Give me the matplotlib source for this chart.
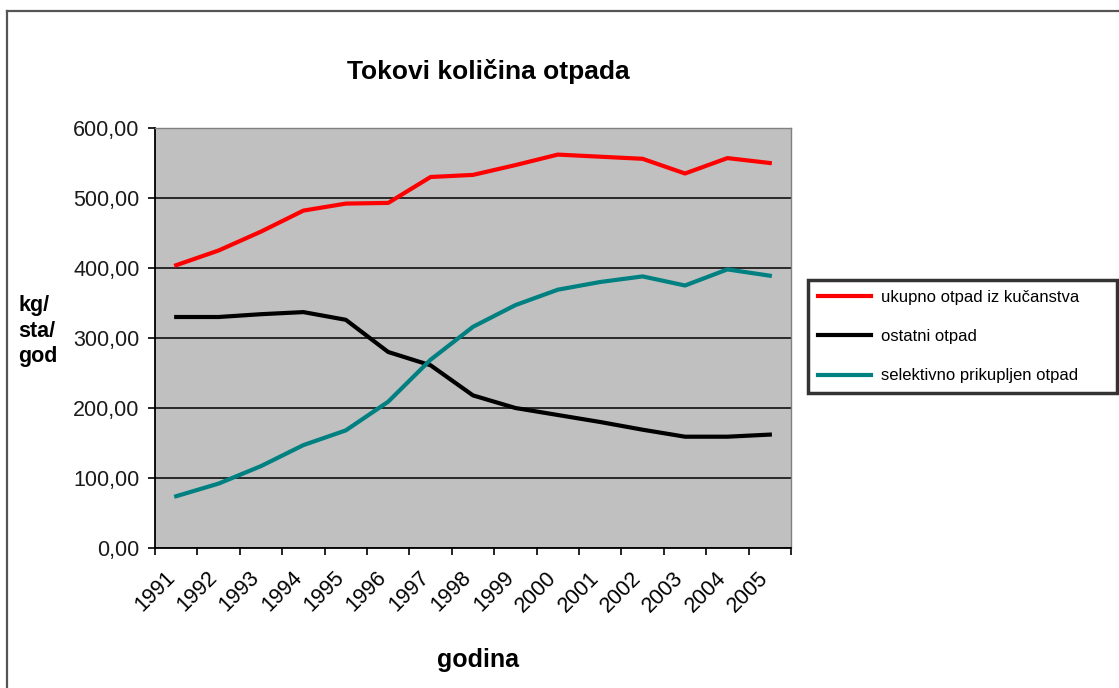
# Tokovi kolicina otpada - line chart, excel style
import numpy as np
import matplotlib
matplotlib.use('Agg')
import matplotlib.pyplot as plt
import matplotlib.transforms as mtransforms
from matplotlib.lines import Line2D
from matplotlib.ticker import FixedLocator, FuncFormatter

plt.rcParams['font.family'] = ['Liberation Sans', 'DejaVu Sans']

# data (kg/stanovnik/godina)
years = ['1991', '1992', '1993', '1994', '1995', '1996', '1997', '1998',
         '1999', '2000', '2001', '2002', '2003', '2004', '2005']
ukupno = [404, 425, 452, 482, 492, 493, 530, 533, 547, 562, 559, 556, 535, 557, 550]
ostatni = [330, 330, 334, 337, 326, 280, 261, 218, 200, 190, 180, 169, 159, 159, 162]
selektivno = [74, 92, 117, 147, 168, 209, 269, 316, 347, 369, 380, 388, 375, 398, 389]

labels = ['ukupno otpad iz kučanstva', 'ostatni otpad', 'selektivno prikupljen otpad']
colors = ['#FF0000', '#000000', '#008080']

fig = plt.figure(figsize=(11.19, 6.88), dpi=100)
ax = fig.add_axes([155/1119, 1 - 548/688, (791 - 155)/1119, (548 - 128)/688])
ax.set_facecolor('#C0C0C0')

x = np.arange(1, len(years) + 1)
for vals, lab, col in zip([ukupno, ostatni, selektivno], labels, colors):
    ax.plot(x, vals, color=col, lw=3, label=lab, solid_joinstyle='round', zorder=3)

ax.set_xlim(0.5, len(years) + 0.5)
ax.set_ylim(0, 600)

# y axis
ax.set_yticks(np.arange(0, 601, 100))
ax.yaxis.set_major_formatter(FuncFormatter(lambda v, p: f'{v:.2f}'.replace('.', ',')))
ax.yaxis.grid(True, color='black', lw=1.1)
ax.set_axisbelow(True)
ax.tick_params(axis='y', direction='out', length=5, width=1.2, labelsize=15.5,
               pad=6, colors='black', labelcolor='#1a1a1a')

# x axis: labels at centers, ticks between categories
ax.set_xticks(x)
ax.set_xticklabels(years, rotation=45, ha='right', rotation_mode='anchor')
ax.tick_params(axis='x', which='major', length=0, labelsize=15.5, pad=14)
shift = mtransforms.ScaledTranslation(-0.12, 0, fig.dpi_scale_trans)
for t in ax.get_xticklabels():
    t.set_transform(t.get_transform() + shift)
ax.xaxis.set_minor_locator(FixedLocator(np.arange(0.5, len(years) + 1, 1)))
ax.tick_params(axis='x', which='minor', direction='out', length=5, width=1.2)

for s in ['left', 'bottom']:
    ax.spines[s].set_color('black')
    ax.spines[s].set_linewidth(1.3)
for s in ['top', 'right']:
    ax.spines[s].set_color('#808080')
    ax.spines[s].set_linewidth(1.0)

# texts
fig.text(488/1119, 1 - 72/688, 'Tokovi količina otpada', ha='center', va='center',
         fontsize=19, fontweight='bold')
fig.text(478/1119, 1 - 660/688, 'godina', ha='center', va='center',
         fontsize=18, fontweight='bold')
fig.text(18/1119, 1 - 331/688, 'kg/\nsta/\ngod', ha='left', va='center',
         fontsize=15.5, fontweight='bold', linespacing=1.3)

# legend
leg = ax.legend(loc='upper left', bbox_to_anchor=(808/1119, 1 - 393/688, (1117 - 808)/1119, (393 - 280)/688),
                bbox_transform=fig.transFigure, mode='expand', fontsize=12, frameon=True,
                fancybox=False, handlelength=3.2, handletextpad=0.6, labelspacing=1.45,
                borderpad=0.6, borderaxespad=0)
leg.get_frame().set_edgecolor('black')
leg.get_frame().set_linewidth(2.5)
for h in leg.get_lines():
    h.set_linewidth(3)

# outer frame of the picture
fig.add_artist(Line2D([7/1119, 7/1119], [0, 1 - 11/688], transform=fig.transFigure,
                      color='#555555', lw=1.6))
fig.add_artist(Line2D([7/1119, 1], [1 - 11/688, 1 - 11/688], transform=fig.transFigure,
                      color='#555555', lw=1.6))

plt.savefig('out.png', dpi=100)
plt.close()
